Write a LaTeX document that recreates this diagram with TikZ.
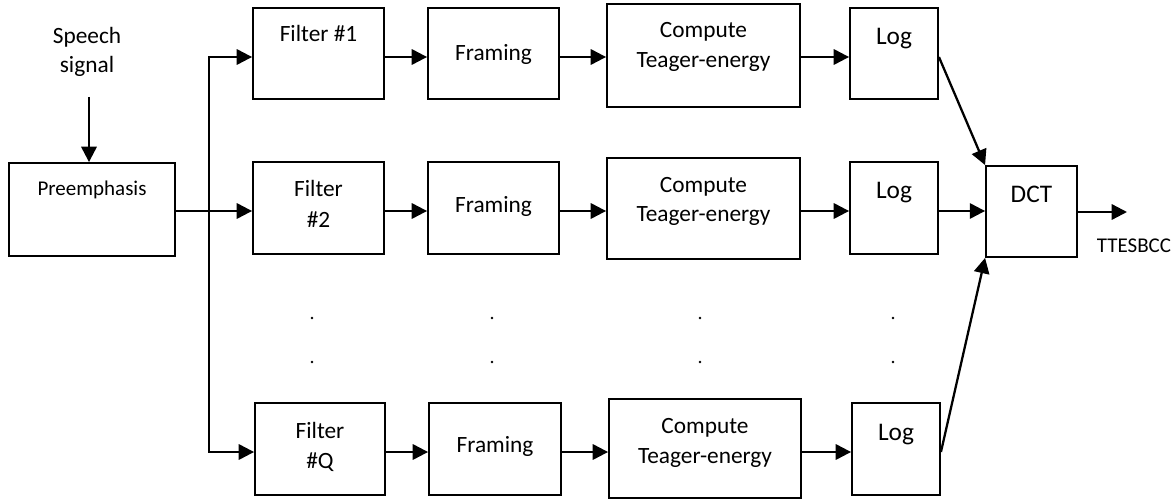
\documentclass[tikz,border=0pt]{standalone}
\usepackage{fontspec}
\setmainfont{Carlito}
\usetikzlibrary{arrows.meta,fit,calc}
\begin{document}
\begin{tikzpicture}[x=0.75pt,y=-0.75pt,
  box/.style={draw, line width=1.4pt, inner sep=0pt},
  conn/.style={line width=1.7pt, line join=miter, -{Triangle[length=11.5pt,width=11.5pt]}},
  fn/.style={font=\fontsize{17.5}{21}\selectfont, inner sep=0pt, anchor=base},
  fb/.style={font=\fontsize{19}{23}\selectfont, inner sep=0pt, anchor=base},
  fs/.style={font=\fontsize{15.75}{19}\selectfont, inner sep=0pt, anchor=base}
]
\useasboundingbox (0,0) rectangle (1176,499);

% boxes
\node[box, fit={(9,163)(175,256)}] (pre) {};
\node[box, fit={(253,8)(384,99)}] (f1) {};
\node[box, fit={(428,8)(559,99)}] (fr1) {};
\node[box, fit={(607,4)(800,107)}] (c1) {};
\node[box, fit={(850,8)(938,99)}] (l1) {};
\node[box, fit={(253,162)(384,254)}] (f2) {};
\node[box, fit={(428,162)(559,254)}] (fr2) {};
\node[box, fit={(607,158)(800,259)}] (c2) {};
\node[box, fit={(850,162)(938,254)}] (l2) {};
\node[box, fit={(255,403)(385,495)}] (fq) {};
\node[box, fit={(429,403)(561,495)}] (frq) {};
\node[box, fit={(609,399)(801,498)}] (cq) {};
\node[box, fit={(852,403)(940,495)}] (lq) {};
\node[box, fit={(986,166)(1077,257)}] (dct) {};

% texts
\node[fn] (sp1) at (87,44) {Speech};
\node[fn] (sp2) at (87,73) {signal};
\node[fs] (tpre) at (92,195) {Preemphasis};
\node[fn] (tf1) at (318.5,42) {Filter \#1};
\node[fn] (tfr1) at (493.5,61) {Framing};
\node[fn] (tc1a) at (703.5,38) {Compute};
\node[fn] (tc1b) at (703.5,68) {Teager-energy};
\node[fb] (tl1) at (894,45) {Log};
\node[fn] (tf2a) at (318.5,196) {Filter};
\node[fn] (tf2b) at (318.5,227) {\#2};
\node[fn] (tfr2) at (493.5,212) {Framing};
\node[fn] (tc2a) at (703.5,192) {Compute};
\node[fn] (tc2b) at (703.5,221) {Teager-energy};
\node[fb] (tl2) at (894,198) {Log};
\node[fn] (tfqa) at (320,438) {Filter};
\node[fn] (tfqb) at (320,468) {\#Q};
\node[fn] (tfrq) at (495,452) {Framing};
\node[fn] (tcqa) at (705,433) {Compute};
\node[fn] (tcqb) at (705,463) {Teager-energy};
\node[fb] (tlq) at (896,440) {Log};
\node[fb] (tdct) at (1031.5,202) {DCT};
\node[fs] (tout) at (1134,252) {TTESBCC};

% row levels
\coordinate (r1) at (0,57);
\coordinate (r2) at (0,211);
\coordinate (rq) at (0,452);
\coordinate (bx) at (209,0);
\coordinate (sp) at (89,97);
\coordinate (out) at (1127,212);

% input
\draw[conn] (sp) -- (sp |- pre.north);
\draw[conn] (pre.east |- r2) -- (f2.west |- r2);
\draw[conn] (bx |- r2) |- (f1.west |- r1);
\draw[conn] (bx |- r2) |- (fq.west |- rq);

% rows
\draw[conn] (f1.east |- r1) -- (fr1.west |- r1);
\draw[conn] (fr1.east |- r1) -- (c1.west |- r1);
\draw[conn] (c1.east |- r1) -- (l1.west |- r1);
\draw[conn] (f2.east |- r2) -- (fr2.west |- r2);
\draw[conn] (fr2.east |- r2) -- (c2.west |- r2);
\draw[conn] (c2.east |- r2) -- (l2.west |- r2);
\draw[conn] (fq.east |- rq) -- (frq.west |- rq);
\draw[conn] (frq.east |- rq) -- (cq.west |- rq);
\draw[conn] (cq.east |- rq) -- (lq.west |- rq);

% to DCT
\draw[conn] (l1.east |- r1) -- (dct.north west);
\draw[conn] (l2.east |- r2) -- (dct.west |- r2);
\draw[conn] (lq.east |- rq) -- (dct.south west);
\draw[conn] (dct.east |- out) -- (out);

% ellipsis dots
\foreach \x in {312,492,700,893} {
  \fill (\x,318) circle[radius=1.1pt];
  \fill (\x,362) circle[radius=1.1pt];
}
\end{tikzpicture}
\end{document}
